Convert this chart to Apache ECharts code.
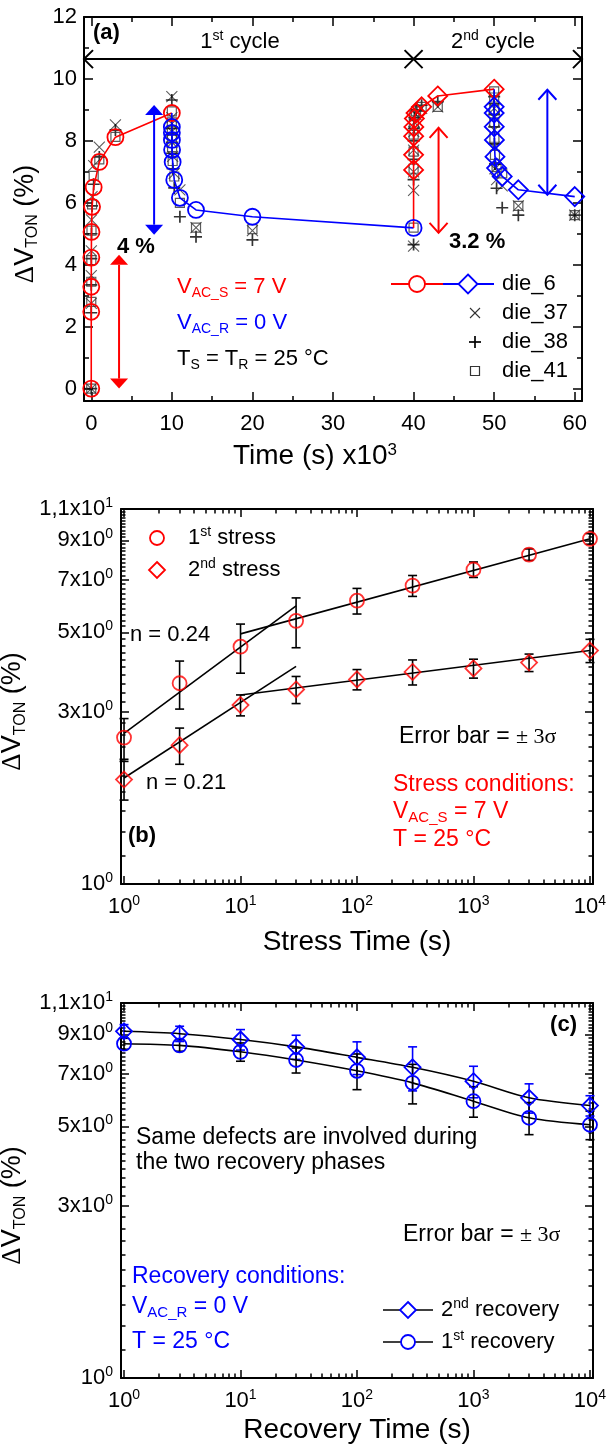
<!DOCTYPE html>
<html>
<head>
<meta charset="utf-8">
<script src="https://cdn.jsdelivr.net/npm/echarts@6/dist/echarts.min.js"></script>
<style>html,body{margin:0;padding:0;background:#fff}#chart{width:607px;height:1448px}</style>
</head>
<body>
<div id="chart"></div>
<script>
// ---------------- data ----------------
// (a) threshold shift history of four dies over two stress / recovery cycles (time in 1e3 s)
const cycleStress1Time   = [0, 0.001, 0.003, 0.01, 0.03, 0.1, 0.3, 1, 3, 10];
const cycleRecovery1Time = [10.001, 10.003, 10.01, 10.03, 10.1, 10.3, 11, 13, 20, 40];
const cycleStress2Time   = [40.001, 40.003, 40.01, 40.03, 40.1, 40.3, 41, 43, 50];
const cycleRecovery2Time = [50.001, 50.003, 50.01, 50.03, 50.1, 50.3, 51, 53, 60];

const die6Stress1   = [0, 2.48, 3.29, 4.23, 5.06, 5.87, 6.5, 7.32, 8.12, 8.9];
const die6Recovery1 = [8.45, 8.26, 8.03, 7.71, 7.32, 6.74, 6.16, 5.77, 5.55, 5.19];
const die6Stress2   = [7.06, 7.55, 8.15, 8.45, 8.72, 8.9, 9.1, 9.45, 9.67];
const die6Recovery2 = [9.1, 8.9, 8.46, 8.03, 7.49, 7.12, 6.85, 6.42, 6.2];

const die37Stress1   = [0, 2.75, 3.65, 4.45, 5.45, 6.2, 7.2, 7.8, 8.52, 9.43];
const die37Recovery1 = [8.75, 8.55, 8.3, 7.95, 7.5, 6.95, 6.42, 5.2, 5.1, 4.6];
const die37Stress2   = [6.4, 7.0, 7.7, 8.3, 8.6, 8.85, 9.05, 9.1, 9.4];
const die37Recovery2 = [9.05, 8.75, 8.35, 7.8, 7.1, 6.75, 6.55, 5.9, 5.6];

const die38Stress1   = [0, 2.45, 3.35, 4.2, 5.0, 5.9, 6.6, 7.48, 8.35, 9.32];
const die38Recovery1 = [8.4, 8.2, 7.95, 7.6, 7.1, 6.48, 5.55, 4.9, 4.8, 4.65];
const die38Stress2   = [6.75, 7.4, 8.0, 8.4, 8.75, 9.0, 9.15, 9.27, 9.43];
const die38Recovery2 = [9.2, 8.85, 8.45, 7.9, 7.25, 6.47, 5.84, 5.6, 5.6];

const die41Stress1   = [0, 2.8, 3.45, 4.15, 5.1, 5.95, 6.87, 7.4, 8.13, 8.95];
const die41Recovery1 = [8.6, 8.35, 8.1, 7.8, 7.35, 6.85, 6.0, 5.2, 5.15, 5.2];
const die41Stress2   = [7.1, 7.65, 8.2, 8.55, 8.8, 8.95, 9.1, 9.1, 9.6];
const die41Recovery2 = [9.4, 9.0, 8.6, 8.1, 7.55, 7.15, 6.95, 5.9, 5.6];

// (b) mean shift during the two stress phases, with +/- 3 sigma spread
const stressTime  = [1, 3, 10, 30, 100, 300, 1000, 3000, 10000];
const stress1     = [2.55, 3.61, 4.56, 5.38, 6.12, 6.74, 7.47, 8.22, 9.09];
const stress1Err  = [0.33, 0.55, 0.71, 0.85, 0.5, 0.45, 0.37, 0.3, 0.31];
const stress2     = [1.95, 2.43, 3.14, 3.47, 3.70, 3.88, 3.97, 4.12, 4.45];
const stress2Err  = [0.24, 0.28, 0.21, 0.3, 0.24, 0.31, 0.24, 0.23, 0.33];
// power-law fit segments (end points)
const fitStress1Short = {t: [1, 30],     v: [2.62, 5.92]};   // n = 0.24
const fitStress1Long  = {t: [10, 10000], v: [4.95, 9.09]};
const fitStress2Short = {t: [1, 30],     v: [1.97, 4.02]};   // n = 0.21
const fitStress2Long  = {t: [10, 10000], v: [3.35, 4.45]};

// (c) mean shift during the two recovery phases
const recoveryTime  = [1, 3, 10, 30, 100, 300, 1000, 3000, 10000];
const recovery2     = [9.18, 9.04, 8.71, 8.31, 7.77, 7.29, 6.67, 6.00, 5.71];
const recovery2Err  = [0.40, 0.44, 0.57, 0.64, 0.81, 1.02, 0.67, 0.56, 0.37];
const recovery1     = [8.48, 8.39, 8.05, 7.64, 7.13, 6.60, 5.87, 5.28, 5.05];
const recovery1Err  = [0.3, 0.31, 0.47, 0.61, 0.81, 0.83, 0.57, 0.54, 0.46];

// tick values
const timeTicksA  = [0, 10, 20, 30, 40, 50, 60];
const timeMinorA  = [5, 15, 25, 35, 45, 55];
const dvTicksA    = [0, 2, 4, 6, 8, 10, 12];
const dvMinorA    = [1, 3, 5, 7, 9, 11];
const logTimeTicks = [1, 10, 100, 1000, 10000];
const logDvTicks   = [1, 3, 5, 7, 9, 11];

// ---------------- styling helpers ----------------
const FONT  = "'Liberation Sans', Arial, Helvetica, sans-serif";
const SERIF = "'Liberation Serif', 'Times New Roman', serif";
const RED = '#ff0000', BLUE = '#0000ff', BLACK = '#000000';
const lg = Math.log10;

const logTimeMinor = [];
for (let d = 0; d < 4; d++) for (let k = 2; k <= 9; k++) logTimeMinor.push(k * Math.pow(10, d));
const logDvMinor = [];
for (let i = 1; i < 50; i++) {
  const v = +(1 + 0.2 * i).toFixed(1);
  if (!logDvTicks.includes(v)) logDvMinor.push(v);
}

const labelRich = {
  b:   {fontSize: 22, fontFamily: FONT, color: BLACK, lineHeight: 26},
  sup: {fontSize: 14, fontFamily: FONT, color: BLACK, verticalAlign: 'top', lineHeight: 10}
};
const dvNameStyle = {
  color: BLACK,
  padding: [0, 30, 0, 0],
  rich: {
    d:   {fontSize: 27, fontFamily: SERIF, color: BLACK, lineHeight: 31},
    v:   {fontSize: 27, fontFamily: FONT, color: BLACK, lineHeight: 31},
    sub: {fontSize: 16, fontFamily: FONT, color: BLACK, verticalAlign: 'bottom', lineHeight: 6}
  }
};
const dvName = '{d|\u0394}{v|V}{sub|TON}{v| (%)}';

function axisSet(dim, g, c) {
  const sides = dim === 'x' ? ['bottom', 'top'] : ['left', 'right'];
  const base = pos => ({
    type: 'value', gridIndex: g, position: pos, min: c.min, max: c.max,
    axisLine: {show: false, onZero: false}, axisTick: {show: false},
    axisLabel: {show: false}, splitLine: {show: false}, splitArea: {show: false}
  });
  const tick = (vals, len) => ({show: true, inside: true, length: len, customValues: vals,
                                lineStyle: {color: BLACK, width: 1.5}});
  const frame = {show: true, onZero: false, lineStyle: {color: BLACK, width: 2}};
  const main = base(sides[0]);
  main.axisLine = frame;
  main.axisTick = tick(c.major, c.majorLen);
  main.axisLabel = {show: true, customValues: c.major, formatter: c.fmt, margin: c.margin,
                    color: BLACK, fontFamily: FONT, fontSize: 22, rich: labelRich};
  Object.assign(main, {name: c.name, nameLocation: 'middle', nameGap: c.nameGap,
                       nameRotate: c.nameRotate || 0, nameTextStyle: c.nameStyle});
  const minor = base(sides[0]);
  minor.axisTick = tick(c.minor, c.minorLen);
  const mirror = base(sides[1]);
  mirror.axisLine = frame;
  mirror.axisTick = tick(c.major, c.majorLen);
  const mirrorMinor = base(sides[1]);
  mirrorMinor.axisTick = tick(c.minor, c.minorLen);
  return [main, minor, mirror, mirrorMinor];
}

const dvLogLabel = v => {
  const r = Math.round(Math.pow(10, v));
  if (r === 1) return '{b|10}{sup|0}';
  if (r === 11) return '{b|1,1x10}{sup|1}';
  return '{b|' + r + 'x10}{sup|0}';
};
const timeLogLabel = v => '{b|10}{sup|' + Math.round(v) + '}';

const xTitleStyle = {fontSize: 28, fontFamily: FONT, color: BLACK,
  rich: {sup: {fontSize: 17, fontFamily: FONT, color: BLACK, verticalAlign: 'top', lineHeight: 12}}};

const xAxes = [
  ...axisSet('x', 0, {min: -0.9, max: 60.9, major: timeTicksA, minor: timeMinorA, majorLen: 9, minorLen: 5,
    fmt: v => String(Math.round(v)), margin: 12,
    name: 'Time (s) x10{sup|3}', nameGap: 41, nameStyle: Object.assign({padding: [0, 36, 0, 0]}, xTitleStyle)}),
  ...axisSet('x', 1, {min: -0.026, max: 4.026, major: logTimeTicks.map(lg), minor: logTimeMinor.map(lg),
    majorLen: 8, minorLen: 4.5, fmt: timeLogLabel, margin: 10,
    name: 'Stress Time (s)', nameGap: 44, nameStyle: xTitleStyle}),
  ...axisSet('x', 2, {min: -0.026, max: 4.026, major: logTimeTicks.map(lg), minor: logTimeMinor.map(lg),
    majorLen: 8, minorLen: 4.5, fmt: timeLogLabel, margin: 10,
    name: 'Recovery Time (s)', nameGap: 38, nameStyle: xTitleStyle})
];
const yAxes = [
  ...axisSet('y', 0, {min: -0.4, max: 12, major: dvTicksA, minor: dvMinorA, majorLen: 9, minorLen: 5,
    fmt: v => String(Math.round(v)), margin: 7,
    name: dvName, nameGap: 43, nameRotate: 90, nameStyle: dvNameStyle}),
  ...axisSet('y', 1, {min: 0, max: lg(11), major: logDvTicks.map(lg), minor: logDvMinor.map(lg),
    majorLen: 8, minorLen: 4.5, fmt: dvLogLabel, margin: 8,
    name: dvName, nameGap: 81, nameRotate: 90, nameStyle: dvNameStyle}),
  ...axisSet('y', 2, {min: 0, max: lg(11), major: logDvTicks.map(lg), minor: logDvMinor.map(lg),
    majorLen: 8, minorLen: 4.5, fmt: dvLogLabel, margin: 8,
    name: dvName, nameGap: 81, nameRotate: 90, nameStyle: dvNameStyle})
];

// ---------------- series ----------------
const pairs = (ts, vs) => ts.map((t, i) => [t, vs[i]]);
const logPairs = (ts, vs) => ts.map((t, i) => [lg(t), lg(vs[i])]);
const openStyle = (c, w) => ({color: 'transparent', borderColor: c, borderWidth: w});
const last = a => a[a.length - 1];

const series = [];
// (a) die_6 connected history
series.push({name: 'die_6 stress 1', type: 'line', xAxisIndex: 0, yAxisIndex: 0, z: 4,
  data: pairs(cycleStress1Time, die6Stress1), symbol: 'circle', symbolSize: 16, showAllSymbol: true,
  lineStyle: {color: RED, width: 1.6}, itemStyle: openStyle(RED, 1.8)});
series.push({name: 'die_6 recovery 1', type: 'line', xAxisIndex: 0, yAxisIndex: 0, z: 4,
  data: [{value: [last(cycleStress1Time), last(die6Stress1)], symbol: 'none'}, ...pairs(cycleRecovery1Time, die6Recovery1)],
  symbol: 'circle', symbolSize: 16, showAllSymbol: true,
  lineStyle: {color: BLUE, width: 1.6}, itemStyle: openStyle(BLUE, 1.8)});
series.push({name: 'die_6 stress 2', type: 'line', xAxisIndex: 0, yAxisIndex: 0, z: 4,
  data: [{value: [last(cycleRecovery1Time), last(die6Recovery1)], symbol: 'none'}, ...pairs(cycleStress2Time, die6Stress2)],
  symbol: 'diamond', symbolSize: [19, 19], showAllSymbol: true,
  lineStyle: {color: RED, width: 1.6}, itemStyle: openStyle(RED, 1.8)});
series.push({name: 'die_6 recovery 2', type: 'line', xAxisIndex: 0, yAxisIndex: 0, z: 4,
  data: [{value: [last(cycleStress2Time), last(die6Stress2)], symbol: 'none'}, ...pairs(cycleRecovery2Time, die6Recovery2)],
  symbol: 'diamond', symbolSize: [19, 19], showAllSymbol: true,
  lineStyle: {color: BLUE, width: 1.6}, itemStyle: openStyle(BLUE, 1.8)});

const allTimesA = [...cycleStress1Time, ...cycleRecovery1Time, ...cycleStress2Time, ...cycleRecovery2Time];
const CROSS = 'path://M0,0L10,10M10,0L0,10';
const PLUS  = 'path://M5,0L5,10M0,5L10,5';
[
  {name: 'die_37', vals: [...die37Stress1, ...die37Recovery1, ...die37Stress2, ...die37Recovery2], symbol: CROSS, size: 11, color: '#333', w: 1.1},
  {name: 'die_38', vals: [...die38Stress1, ...die38Recovery1, ...die38Stress2, ...die38Recovery2], symbol: PLUS, size: 12, color: BLACK, w: 1.7},
  {name: 'die_41', vals: [...die41Stress1, ...die41Recovery1, ...die41Stress2, ...die41Recovery2], symbol: 'rect', size: 9, color: '#333', w: 1.2}
].forEach(d => series.push({name: d.name, type: 'scatter', xAxisIndex: 0, yAxisIndex: 0, z: 3,
  data: pairs(allTimesA, d.vals), symbol: d.symbol, symbolSize: d.size, itemStyle: openStyle(d.color, d.w)}));

// error bars drawn on the log-log panels
function errorBars(axisIdx, ts, vs, errs, color) {
  return {type: 'custom', xAxisIndex: axisIdx, yAxisIndex: axisIdx, z: 2,
    data: ts.map((t, i) => [lg(t), lg(vs[i] - errs[i]), lg(vs[i] + errs[i])]),
    encode: {x: 0, y: [1, 2]},
    renderItem(params, api) {
      const x = api.value(0);
      const lo = api.coord([x, api.value(1)]);
      const hi = api.coord([x, api.value(2)]);
      const cap = 4.5, st = {stroke: color, lineWidth: 1.6};
      return {type: 'group', children: [
        {type: 'line', shape: {x1: lo[0], y1: lo[1], x2: hi[0], y2: hi[1]}, style: st},
        {type: 'line', shape: {x1: lo[0] - cap, y1: lo[1], x2: lo[0] + cap, y2: lo[1]}, style: st},
        {type: 'line', shape: {x1: hi[0] - cap, y1: hi[1], x2: hi[0] + cap, y2: hi[1]}, style: st}
      ]};
    }};
}
const fitLine = (axisIdx, f) => ({type: 'line', xAxisIndex: axisIdx, yAxisIndex: axisIdx, z: 3,
  data: logPairs(f.t, f.v), symbol: 'none', lineStyle: {color: BLACK, width: 1.6}});

// (b)
series.push(errorBars(4, stressTime, stress1, stress1Err, BLACK));
series.push(errorBars(4, stressTime, stress2, stress2Err, BLACK));
[fitStress1Short, fitStress1Long, fitStress2Short, fitStress2Long].forEach(f => series.push(fitLine(4, f)));
series.push({name: '1st stress', type: 'scatter', xAxisIndex: 4, yAxisIndex: 4, z: 4,
  data: logPairs(stressTime, stress1), symbol: 'circle', symbolSize: 14, itemStyle: openStyle(RED, 1.8)});
series.push({name: '2nd stress', type: 'scatter', xAxisIndex: 4, yAxisIndex: 4, z: 4,
  data: logPairs(stressTime, stress2), symbol: 'diamond', symbolSize: [16, 16], itemStyle: openStyle(RED, 1.8)});

// (c)
series.push(errorBars(8, recoveryTime, recovery2, recovery2Err, BLUE));
series.push(errorBars(8, recoveryTime, recovery1, recovery1Err, BLACK));
series.push({name: '2nd recovery', type: 'line', xAxisIndex: 8, yAxisIndex: 8, z: 4, smooth: 0.3,
  data: logPairs(recoveryTime, recovery2), symbol: 'diamond', symbolSize: [16, 16], showAllSymbol: true,
  lineStyle: {color: BLACK, width: 1.6}, itemStyle: openStyle(BLUE, 1.8)});
series.push({name: '1st recovery', type: 'line', xAxisIndex: 8, yAxisIndex: 8, z: 4, smooth: 0.3,
  data: logPairs(recoveryTime, recovery1), symbol: 'circle', symbolSize: 14, showAllSymbol: true,
  lineStyle: {color: BLACK, width: 1.6}, itemStyle: openStyle(BLUE, 1.8)});

const chart = echarts.init(document.getElementById('chart'), null, {renderer: 'canvas', width: 607, height: 1448});
chart.setOption({
  animation: false,
  backgroundColor: '#ffffff',
  textStyle: {fontFamily: FONT},
  grid: [
    {left: 84, top: 17, width: 498, height: 384, outerBoundsMode: 'none'},
    {left: 121, top: 509, width: 472, height: 375, outerBoundsMode: 'none'},
    {left: 121, top: 1003, width: 472, height: 375, outerBoundsMode: 'none'}
  ],
  xAxis: xAxes,
  yAxis: yAxes,
  series: series
});

// ---------------- annotations ----------------
const PA = (t, v) => chart.convertToPixel({xAxisIndex: 0, yAxisIndex: 0}, [t, v]);
const G = [];

function gRich(size, color) {
  return {
    b:   {fontSize: size, fontFamily: FONT, fill: color, lineHeight: size + 4},
    bb:  {fontSize: size, fontFamily: FONT, fill: color, fontWeight: 'bold', lineHeight: size + 4},
    sup: {fontSize: Math.round(size * 0.62), fontFamily: FONT, fill: color, verticalAlign: 'top', lineHeight: 10},
    sub: {fontSize: Math.round(size * 0.64), fontFamily: FONT, fill: color, verticalAlign: 'bottom', lineHeight: 6},
    s:   {fontSize: size - 1, fontFamily: SERIF, fill: color, lineHeight: size + 4}
  };
}
function text(x, y, str, color, align, size) {
  G.push({type: 'text', x: x, y: y, z: 20, silent: true,
    style: {text: str, rich: gRich(size || 22, color), align: align || 'left', verticalAlign: 'middle',
            fontSize: size || 22, fontFamily: FONT, fill: color}});
}
function doubleArrow(a, b, color, head) {
  const dx = b[0] - a[0], dy = b[1] - a[1], L = Math.hypot(dx, dy);
  const ux = dx / L, uy = dy / L, nx = -uy, ny = ux;
  const s = head.filled ? head.len : 0;
  G.push({type: 'line', z: 20, silent: true,
    shape: {x1: a[0] + ux * s, y1: a[1] + uy * s, x2: b[0] - ux * s, y2: b[1] - uy * s},
    style: {stroke: color, lineWidth: 2}});
  [[a, 1], [b, -1]].forEach(([tip, sg]) => {
    const bx = tip[0] + sg * ux * head.len, by = tip[1] + sg * uy * head.len;
    const p1 = [bx + nx * head.half, by + ny * head.half], p2 = [bx - nx * head.half, by - ny * head.half];
    if (head.filled) G.push({type: 'polygon', z: 20, silent: true, shape: {points: [tip, p1, p2]}, style: {fill: color}});
    else G.push({type: 'polyline', z: 20, silent: true, shape: {points: [p1, tip, p2]},
                 style: {stroke: color, lineWidth: 2, fill: 'none'}});
  });
}
const FILLED = {filled: true, len: 10, half: 9};
const OPEN = {filled: false, len: 10, half: 9};

// cycle spans
const cycleLevel = 10.64;
doubleArrow(PA(-0.9, cycleLevel), PA(40, cycleLevel), BLACK, {filled: false, len: 9, half: 9});
doubleArrow(PA(40, cycleLevel), PA(60.9, cycleLevel), BLACK, {filled: false, len: 9, half: 9});
// recovered / permanent amounts
doubleArrow(PA(7.8, 9.16), PA(7.8, 4.97), BLUE, FILLED);
doubleArrow(PA(3.45, 4.32), PA(3.45, 0), RED, FILLED);
doubleArrow(PA(43.1, 8.42), PA(43.1, 5.03), RED, OPEN);
doubleArrow(PA(56.6, 9.65), PA(56.6, 6.26), BLUE, OPEN);

text(93, 33, '{bb|(a)}', BLACK);
text(240, 42, '{b|1}{sup|st}{b| cycle}', BLACK, 'center');
text(493, 42, '{b|2}{sup|nd}{b| cycle}', BLACK, 'center');
text(117, 247, '{bb|4 %}', BLACK);
text(449, 242, '{bb|3.2 %}', BLACK);
text(177, 287, '{b|V}{sub|AC_S}{b| = 7 V}', RED);
text(177, 323, '{b|V}{sub|AC_R}{b| = 0 V}', BLUE);
text(177, 359, '{b|T}{sub|S}{b| = T}{sub|R}{b| = 25 \u00B0C}', BLACK);

// legend of (a)
const legY = [284, 313, 342, 371];
G.push({type: 'line', z: 20, shape: {x1: 391, y1: legY[0], x2: 443, y2: legY[0]}, style: {stroke: RED, lineWidth: 1.8}});
G.push({type: 'line', z: 20, shape: {x1: 443, y1: legY[0], x2: 494, y2: legY[0]}, style: {stroke: BLUE, lineWidth: 1.8}});
G.push({type: 'circle', z: 21, shape: {cx: 417, cy: legY[0], r: 8}, style: {fill: '#fff', stroke: RED, lineWidth: 1.8}});
G.push({type: 'polygon', z: 21, shape: {points: [[468, legY[0] - 9.5], [477.5, legY[0]], [468, legY[0] + 9.5], [458.5, legY[0]]]},
        style: {fill: '#fff', stroke: BLUE, lineWidth: 1.8}});
G.push({type: 'polyline', z: 21, shape: {points: [[470, legY[1] - 5], [480, legY[1] + 5]]}, style: {stroke: '#333', lineWidth: 1.1, fill: 'none'}});
G.push({type: 'polyline', z: 21, shape: {points: [[480, legY[1] - 5], [470, legY[1] + 5]]}, style: {stroke: '#333', lineWidth: 1.1, fill: 'none'}});
G.push({type: 'polyline', z: 21, shape: {points: [[475, legY[2] - 6], [475, legY[2] + 6]]}, style: {stroke: BLACK, lineWidth: 1.7, fill: 'none'}});
G.push({type: 'polyline', z: 21, shape: {points: [[469, legY[2]], [481, legY[2]]]}, style: {stroke: BLACK, lineWidth: 1.7, fill: 'none'}});
G.push({type: 'rect', z: 21, shape: {x: 470.5, y: legY[3] - 4.5, width: 9, height: 9}, style: {fill: 'none', stroke: '#333', lineWidth: 1.2}});
text(502, legY[0], '{b|die_6}', BLACK);
text(502, legY[1], '{b|die_37}', BLACK);
text(502, legY[2], '{b|die_38}', BLACK);
text(502, legY[3], '{b|die_41}', BLACK);

// (b) texts
G.push({type: 'circle', z: 21, shape: {cx: 157, cy: 538, r: 7}, style: {fill: 'none', stroke: RED, lineWidth: 1.8}});
G.push({type: 'polygon', z: 21, shape: {points: [[157, 562], [165, 570], [157, 578], [149, 570]]}, style: {fill: 'none', stroke: RED, lineWidth: 1.8}});
text(188, 538, '{b|1}{sup|st}{b| stress}', BLACK);
text(188, 570, '{b|2}{sup|nd}{b| stress}', BLACK);
text(130, 635, '{b|n = 0.24}', BLACK);
text(146, 783, '{b|n = 0.21}', BLACK);
text(399, 737, '{b|Error bar = }{s|\u00B1 3\u03C3}', BLACK, 'left', 23);
text(393, 785, '{b|Stress conditions:}', RED, 'left', 23);
text(393, 812, '{b|V}{sub|AC_S}{b| = 7 V}', RED, 'left', 23);
text(393, 840, '{b|T = 25 \u00B0C}', RED, 'left', 23);
text(128, 836, '{bb|(b)}', BLACK);

// (c) texts
text(577, 1025, '{bb|(c)}', BLACK, 'right');
text(136, 1138, '{b|Same defects are involved during}', BLACK, 'left', 23);
text(136, 1163, '{b|the two recovery phases}', BLACK, 'left', 23);
text(403, 1235, '{b|Error bar = }{s|\u00B1 3\u03C3}', BLACK, 'left', 23);
text(132, 1277, '{b|Recovery conditions:}', BLUE, 'left', 23);
text(132, 1307, '{b|V}{sub|AC_R}{b| = 0 V}', BLUE, 'left', 23);
text(132, 1342, '{b|T = 25 \u00B0C}', BLUE, 'left', 23);
G.push({type: 'line', z: 20, shape: {x1: 383, y1: 1310, x2: 433, y2: 1310}, style: {stroke: BLACK, lineWidth: 1.6}});
G.push({type: 'polygon', z: 21, shape: {points: [[408, 1302], [416, 1310], [408, 1318], [400, 1310]]}, style: {fill: '#fff', stroke: BLUE, lineWidth: 1.8}});
G.push({type: 'line', z: 20, shape: {x1: 383, y1: 1342, x2: 433, y2: 1342}, style: {stroke: BLACK, lineWidth: 1.6}});
G.push({type: 'circle', z: 21, shape: {cx: 408, cy: 1342, r: 7}, style: {fill: '#fff', stroke: BLUE, lineWidth: 1.8}});
text(441, 1310, '{b|2}{sup|nd}{b| recovery}', BLACK);
text(441, 1342, '{b|1}{sup|st}{b| recovery}', BLACK);

chart.setOption({graphic: {elements: G}});
</script>
</body>
</html>
